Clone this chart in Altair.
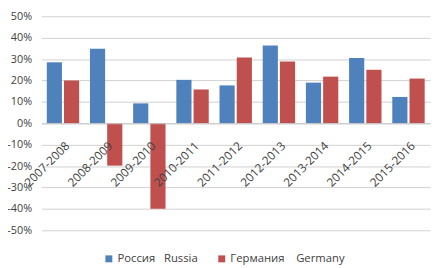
import altair as alt
import pandas as pd

categories = ["2007-2008", "2008-2009", "2009-2010", "2010-2011", "2011-2012",
              "2012-2013", "2013-2014", "2014-2015", "2015-2016"]
russia = [28.5, 34.8, 9.3, 20.3, 17.7, 36.4, 19.0, 30.5, 12.3]
germany = [20.0, -19.8, -40.0, 15.8, 30.7, 28.9, 21.8, 25.0, 20.9]
series_names = ["Россия\u00a0\u00a0\u00a0Russia", "Германия\u00a0\u00a0\u00a0\u00a0Germany"]
series_colors = ["#4f81bd", "#c0504d"]

rows = []
for c, r, g in zip(categories, russia, germany):
    rows.append({"period": c, "series": series_names[0], "value": r})
    rows.append({"period": c, "series": series_names[1], "value": g})
df = pd.DataFrame(rows)

FONT = "Open Sans"

chart = alt.Chart(df).mark_bar().encode(
    x=alt.X("period:N", sort=categories, title=None,
            scale=alt.Scale(paddingInner=0.25, paddingOuter=0.125),
            axis=alt.Axis(labelAngle=-45, labelAlign="right", labelBaseline="top",
                          offset=-109, ticks=False, domain=True, domainColor="#c8c8c8",
                          labelPadding=17, labelOffset=1, labelFont=FONT, labelFontSize=12,
                          labelColor="#404040", grid=False, zindex=1)),
    xOffset=alt.XOffset("series:N", sort=series_names,
                        scale=alt.Scale(paddingInner=0.12)),
    y=alt.Y("value:Q", title=None,
            scale=alt.Scale(domain=[-50, 50], nice=False),
            axis=alt.Axis(values=list(range(-50, 51, 10)),
                          labelExpr="datum.value + '%'",
                          ticks=False, domain=False, labelPadding=10,
                          labelFont=FONT, labelFontSize=11, labelColor="#404040",
                          grid=True, gridColor="#d0d0d0", gridWidth=1)),
    color=alt.Color("series:N", sort=series_names,
                    scale=alt.Scale(domain=series_names, range=series_colors),
                    legend=alt.Legend(title=None, orient="none", direction="horizontal",
                                      legendX=63, legendY=241, symbolType="square",
                                      symbolSize=50, symbolStrokeWidth=0,
                                      labelFont=FONT, labelFontSize=11.5,
                                      labelColor="#404040", columnPadding=18,
                                      labelOffset=3)),
).properties(
    width=396, height=218,
    autosize=alt.AutoSizeParams(type="none"),
    padding={"left": 34, "top": 6, "right": 4, "bottom": 36},
).configure_view(stroke=None)

chart.save("out.html", embed_options={"renderer": "svg", "actions": False})
